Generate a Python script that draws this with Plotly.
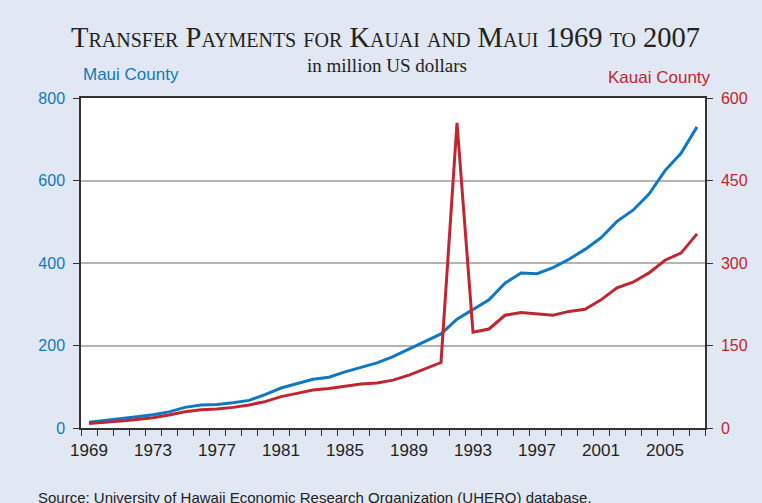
import plotly.graph_objects as go

years = list(range(1969, 2008))

# Maui County, left axis (million US$)
maui = [14, 18, 22, 27, 32, 39, 50, 56, 57, 61, 67, 81,
        97, 107, 118, 123, 136, 147, 158, 173, 191, 208, 228, 264,
        288, 311, 351, 376, 374, 389, 409, 433, 461, 501, 528, 567, 624, 666, 730]

# Kauai County, right axis (million US$)
kauai = [8, 10, 12.5, 15.5, 18.5, 23.5, 29.5, 33, 34.5, 37.5, 42, 48,
         57, 63, 69, 72, 76, 80, 82, 87, 96, 107, 119, 555,
         174, 180, 205, 210, 207, 205, 212, 216, 233, 255, 265, 282, 305, 318, 353]

tick_years = list(range(1969, 2006, 4))
left_ticks = [0, 200, 400, 600, 800]
right_ticks = [0, 150, 300, 450, 600]

BLUE = "#0F78C0"
RED = "#C02631"
BG = "#E1E8F3"

fig = go.Figure()
fig.add_trace(go.Scatter(x=years, y=maui, mode="lines", name="Maui County",
                         line=dict(color=BLUE, width=3)))
fig.add_trace(go.Scatter(x=years, y=kauai, mode="lines", name="Kauai County",
                         yaxis="y2", line=dict(color=RED, width=3)))

fig.update_layout(
    width=762, height=503,
    paper_bgcolor=BG, plot_bgcolor="white",
    margin=dict(l=81, r=57, t=98, b=75),
    showlegend=False,
    font=dict(family="Liberation Sans, Arial", size=16),
    title=dict(text="Transfer Payments for Kauai and Maui 1969 to 2007",
               x=0.506, xanchor="center", y=0.926, yanchor="middle",
               font=dict(family="Liberation Serif, Times New Roman", size=28.5,
                         color="#222222", variant="small-caps")),
    xaxis=dict(range=[1968.5, 2007.5], tickvals=tick_years,
               ticks="outside", ticklen=6, tickcolor="rgba(0,0,0,0)",
               showgrid=False, showline=True, linecolor="#333333", linewidth=1.5,
               mirror=True, tickfont=dict(color="#222222", size=17),
               minor=dict(tick0=1968.5, dtick=1, ticks="outside", ticklen=6,
                          tickcolor="#333333", tickwidth=1, showgrid=False)),
    yaxis=dict(range=[0, 800], tickvals=left_ticks, ticks="outside", ticklen=6,
               tickcolor="#333333", ticklabelstandoff=5,
               showgrid=True, gridcolor="#B4B4B4", gridwidth=1.5,
               showline=True, linecolor="#333333", linewidth=1.5, mirror=True,
               zeroline=False, tickfont=dict(color=BLUE, size=16)),
    yaxis2=dict(range=[0, 600], tickvals=right_ticks, overlaying="y", side="right",
                ticks="outside", ticklen=6, tickcolor="#333333", ticklabelstandoff=5,
                showgrid=False, showline=True, linecolor="#333333", linewidth=1.5,
                zeroline=False, tickfont=dict(color=RED, size=16)),
)

fig.add_annotation(text="in million US dollars", xref="paper", yref="paper",
                   x=0.491, y=1.097, xanchor="center", yanchor="middle", showarrow=False,
                   font=dict(family="Liberation Serif, Times New Roman", size=19, color="#222222"))
fig.add_annotation(text="Maui County", xref="paper", yref="paper",
                   x=0.0, y=1.07, xanchor="left", yanchor="middle", showarrow=False,
                   font=dict(color=BLUE, size=17))
fig.add_annotation(text="Kauai County", xref="paper", yref="paper",
                   x=1.013, y=1.061, xanchor="right", yanchor="middle", showarrow=False,
                   font=dict(color=RED, size=17))
fig.add_annotation(text="Source: University of Hawaii Economic Research Organization (UHERO) database.",
                   xref="paper", yref="paper", x=-0.072, y=-0.212, xanchor="left", yanchor="middle",
                   showarrow=False, font=dict(color="#222222", size=15))

fig.write_html("out.html", config={"displayModeBar": False},
               post_script="document.body.style.margin='0';")
